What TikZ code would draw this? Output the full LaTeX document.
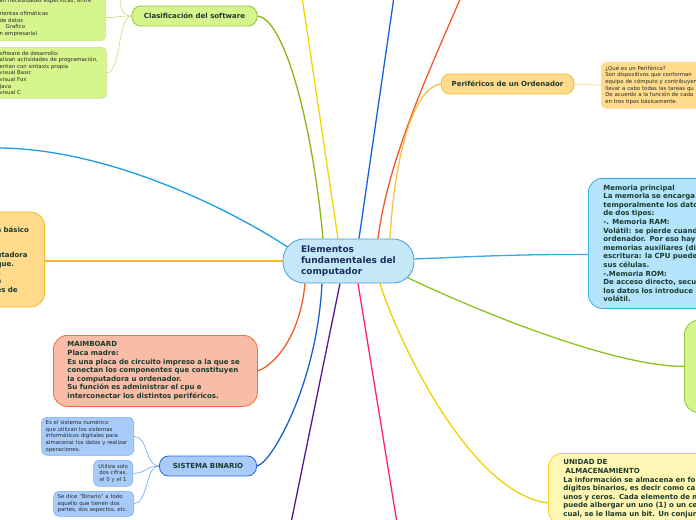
\documentclass[tikz,border=0pt]{standalone}
\usepackage{fontspec}
\setmainfont{DejaVu Sans}
\usetikzlibrary{backgrounds}
\definecolor{coreline}{HTML}{4A9EDB}
\definecolor{corefill}{HTML}{C4E8F8}
\definecolor{coreink}{HTML}{1C2C5E}
\definecolor{ink}{HTML}{1B3A2E}
\definecolor{memoink}{HTML}{2A2A2A}
\definecolor{greenline}{HTML}{92C83A}
\definecolor{greenfill}{HTML}{D6F58C}
\definecolor{twiggreen}{HTML}{C6E58A}
\definecolor{peachline}{HTML}{F7B733}
\definecolor{peachfill}{HTML}{FFDB8B}
\definecolor{twigpeach}{HTML}{FBD88B}
\definecolor{salmonline}{HTML}{F26D3D}
\definecolor{salmonfill}{HTML}{F9BCA7}
\definecolor{binline}{HTML}{2A6AD0}
\definecolor{binfill}{HTML}{A8CCFA}
\definecolor{twigblue}{HTML}{7AAEEE}
\definecolor{memline}{HTML}{3AAEE8}
\definecolor{memfill}{HTML}{B3E4FB}
\definecolor{lemonline}{HTML}{F2D21E}
\definecolor{lemonfill}{HTML}{FFF7B3}
\definecolor{B1}{HTML}{8AB716}
\definecolor{B2}{HTML}{F2D500}
\definecolor{B3}{HTML}{1761D8}
\definecolor{B4}{HTML}{F2592A}
\definecolor{B5}{HTML}{F5C242}
\definecolor{B6}{HTML}{3AA8E6}
\definecolor{B7}{HTML}{8CC320}
\definecolor{B8}{HTML}{F2D000}
\definecolor{B9}{HTML}{FF1F7D}
\definecolor{B10}{HTML}{4F1A8A}
\definecolor{B11}{HTML}{1C5FD4}
\definecolor{B12}{HTML}{F25C2A}
\definecolor{B13}{HTML}{F7BA1E}
\definecolor{B14}{HTML}{1E9DE3}
\newcommand*{\coretext}{\fontsize{9bp}{11.2bp}\selectfont\bfseries}
\newcommand*{\boxtext}{\fontsize{7bp}{8.6bp}\selectfont\bfseries}
\newcommand*{\tinytext}{\fontsize{5.4bp}{6.6bp}\selectfont}
\tikzstyle{topic}=[draw, line width=0.8bp, rounded corners=9bp, inner xsep=6bp, inner ysep=0pt, minimum height=20bp, font=\boxtext, text=ink]
\tikzstyle{note}=[draw, line width=0.8bp, rounded corners=14bp, align=left, font=\boxtext, text=ink, inner ysep=3bp]
\tikzstyle{memo}=[draw, line width=0.6bp, rounded corners=5bp, align=left, font=\tinytext, text=memoink, inner xsep=4bp, inner ysep=3bp]
\tikzstyle{branch}=[line width=1.3bp]
\tikzstyle{twig}=[line width=0.7bp]

\begin{document}
\begin{tikzpicture}[x=1bp, y=-1bp]
    \useasboundingbox (0,0) rectangle (696,520);
    \clip (0,0) rectangle (696,520);
    \node [draw=coreline, fill=corefill, line width=0.8bp, rounded corners=21bp, minimum width=131bp, minimum height=44bp, text width=95bp, align=left, font=\coretext, text=coreink] (core) at (348.5,261) {Elementos\\fundamentales del\\computador};

    \node [topic, draw=greenline, fill=greenfill, minimum width=125bp] (clas) at (194.5,16) {Clasificación del software};
    \node [memo, draw=twiggreen, fill=greenfill, anchor=south east, text width=98bp, inner xsep=8bp, inner ysep=4bp] (office) at (106,41) {en necesidades especificas, entre\\[6.6bp]rientas ofimáticas\\de datos\\\hspace*{6bp}Grafico\\n empresarial};
    \node [memo, draw=twiggreen, fill=greenfill, anchor=north east, text width=99bp, inner xsep=8bp, minimum height=51bp] (devel) at (107,47) {oftware de desarrollo:\\alizan actividades de programación,\\entan con sintaxis propia\\visual Basic\\visual Fox\\Java\\visual C};

    \node [topic, draw=peachline, fill=peachfill, minimum width=133bp] (peri) at (507.5,84) {Periféricos de un Ordenador};
    \node [memo, draw=twigpeach, fill=peachfill, anchor=north west, text width=110bp, minimum height=46bp] (periinfo) at (601,62) {¿Qué es un Periférico?\\Son dispositivos que conforman\\equipo de cómputo y contribuyen\\llevar a cabo todas las tareas qu\\De acuerdo a la función de cada\\en tres tipos básicamente.};

    \node [note, draw=memline, fill=memfill, anchor=north west, text width=130bp, inner xsep=15bp, minimum height=130bp] (mem) at (588,178) {Memoria principal\\La memoria se encarga\\temporalmente los dato\\de dos tipos:\\-. Memoria RAM:\\Volátil: se pierde cuand\\ordenador. Por eso hay\\memorias auxiliares (di\\escritura: la CPU puede\\sus células.\\-.Memoria ROM:\\De acceso directo, secu\\los datos los introduce\\volátil.};

    \node [note, draw=greenline, fill=greenfill, anchor=north west, minimum width=80bp, minimum height=92bp] (hard) at (684,320) {};

    \node [note, draw=lemonline, fill=lemonfill, anchor=north west, text width=150bp, inner xsep=15bp, inner ysep=6.4bp] (store) at (548,453) {UNIDAD DE\\\hspace*{2bp}ALMACENAMIENTO\\La información se almacena en fo\\dígitos binarios, es decir como ca\\unos y ceros. Cada elemento de m\\puede albergar un uno (1) o un ce\\cual, se le llama un bit. Un conjun};

    \node [note, draw=salmonline, fill=salmonfill, anchor=north west, text width=176bp, inner xsep=14bp, minimum height=71bp] (maim) at (53,335) {MAIMBOARD\\Placa madre:\\Es una placa de circuito impreso a la que se\\conectan los componentes que constituyen\\la computadora u ordenador.\\Su función es administrar el cpu e\\interconectar los distintos periféricos.};

    \node [note, draw=peachline, fill=peachfill, anchor=east, text width=38bp, inner xsep=10bp, minimum height=95bp] (basic) at (45,259.5) {a básico\\[17.2bp]utadora\\que.\\s\\a\\es de};

    \node [topic, draw=binline, fill=binfill, minimum width=97bp] (bin) at (208,466) {SISTEMA BINARIO};
    \node [memo, draw=twigblue, fill=binfill, anchor=north east, text width=84bp, minimum height=38bp] (binone) at (134,417) {Es el sistema numérico\\que utilizan los sistemas\\informáticos digitales para\\almacenar los datos y realizar\\operaciones.};
    \node [memo, draw=twigblue, fill=binfill, anchor=north east, text width=31bp, align=center, minimum height=26bp] (bintwo) at (133,460) {Utiliza solo\\dos cifras,\\el 0 y el 1};
    \node [memo, draw=twigblue, fill=binfill, anchor=north east, text width=72bp, minimum height=25bp] (binthree) at (134,491) {Se dice "Binario" a todo\\aquello que tienen dos\\partes, dos aspectos, etc.};

    \coordinate (clastop) at (120,-3);
    \coordinate (yellowtop) at (302,-3);
    \coordinate (bluetop) at (394,-3);
    \coordinate (orangetop) at (461,-3);
    \coordinate (pinkfoot) at (397,523);
    \coordinate (purplefoot) at (291,523);
    \coordinate (cyanleft) at (-3,148);

    \begin{scope}[on background layer]
        \draw [branch, B1] (clas.east) .. controls +(28,3) and +(-10,-110) .. ([xshift=-25.5bp]core.north);
        \draw [branch, B2] (yellowtop) -- ([xshift=-10.5bp]core.north);
        \draw [branch, B3] (bluetop) -- ([xshift=10.5bp]core.north);
        \draw [branch, B4] (orangetop) .. controls +(-30,70) and +(10,-80) .. ([xshift=29.5bp]core.north);
        \draw [branch, B5] (peri.west) .. controls +(-25,3) and +(5,-90) .. ([xshift=41.5bp]core.north);
        \draw [branch, B6] ([yshift=2bp]core.east) .. controls +(70,-3) and +(-70,0) .. ([yshift=-11bp]mem.west);
        \draw [branch, B7] ([xshift=-10bp,yshift=-15bp]core.east) .. controls +(40,20) and +(-80,0) .. (hard.west);
        \draw [branch, B8] ([xshift=31.5bp]core.south) .. controls +(15,50) and +(-80,-10) .. ([yshift=-50bp]store.north west);
        \draw [branch, B9] ([xshift=9.5bp]core.south) -- (pinkfoot);
        \draw [branch, B10] ([xshift=-8.5bp]core.south) -- (purplefoot);
        \draw [branch, B11] ([xshift=-26.5bp]core.south) .. controls +(-5,100) and +(15,-3) .. (bin.east);
        \draw [branch, B12] ([xshift=-43.5bp]core.south) .. controls +(-5,55) and +(15,-5) .. (maim.east);
        \draw [branch, B13] (core.west) -- (core.west -| basic.east);
        \draw [branch, B14] (cyanleft) .. controls +(110,0) and +(-60,-40) .. ([xshift=8bp,yshift=12bp]core.west);

        \draw [twig, twiggreen] (clas.west) .. controls +(-14,0) and +(12,0) .. (office.east);
        \draw [twig, twiggreen] (clas.west) .. controls +(-14,0) and +(14,0) .. (devel.east);
        \draw [twig, twiggreen] (clas.west) .. controls +(-10,0) and +(0,10) .. (clastop);
        \draw [twig, twigpeach] (peri.east) -- (periinfo.west);
        \draw [twig, twigblue] (bin.west) .. controls +(-14,0) and +(14,0) .. (binone.east);
        \draw [twig, twigblue] (bin.west) .. controls +(-14,0) and +(14,0) .. (bintwo.east);
        \draw [twig, twigblue] (bin.west) .. controls +(-14,0) and +(14,0) .. (binthree.east);
    \end{scope}
\end{tikzpicture}
\end{document}
